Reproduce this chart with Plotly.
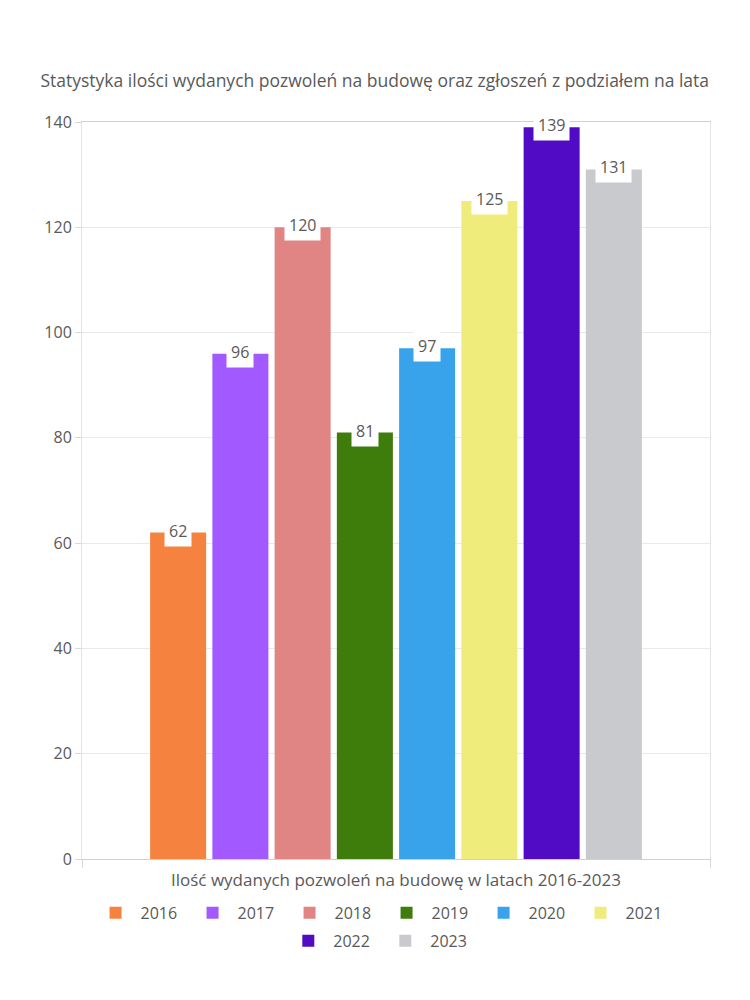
import plotly.graph_objects as go

years = ["2016", "2017", "2018", "2019", "2020", "2021", "2022", "2023"]
values = [62, 96, 120, 81, 97, 125, 139, 131]
colors = ["#F5833F", "#A259FF", "#E18484", "#3E7C0C", "#38A2EA", "#F0EC7C", "#520BC4", "#C9CACE"]
category = ["Ilość wydanych pozwoleń na budowę w latach 2016-2023"]
title_text = "Statystyka ilości wydanych pozwoleń na budowę oraz zgłoszeń z podziałem na lata"
y_ticks = [0, 20, 40, 60, 80, 100, 120, 140]

FONT = "Open Sans"
GREY = "#595959"
BARGAP = 0.207

fig = go.Figure()
n = len(years)
for i, (yr, v, c) in enumerate(zip(years, values, colors)):
    fig.add_trace(go.Bar(
        x=category, y=[v], name=yr,
        marker=dict(color=c, line=dict(width=0)),
        legend="legend" if i < 6 else "legend2",
        hoverinfo="name+y",
    ))

# data labels in white boxes at the top of each bar
slot = (1 - BARGAP) / n
for i, v in enumerate(values):
    fig.add_annotation(
        x=(i - (n - 1) / 2) * slot, y=v, xref="x", yref="y",
        text=str(v), showarrow=False,
        font=dict(family=FONT, size=16, color=GREY),
        bgcolor="white", borderpad=4, yanchor="middle", yshift=2,
    )

legend_common = dict(orientation="h", xanchor="center", yanchor="middle",
                     font=dict(family=FONT, size=16, color=GREY),
                     entrywidth=42, itemwidth=40, traceorder="normal",
                     bgcolor="rgba(0,0,0,0)")

fig.update_layout(
    width=750, height=1000,
    margin=dict(l=74, r=48, t=114, b=149),
    paper_bgcolor="white", plot_bgcolor="white",
    barmode="group", bargap=BARGAP, bargroupgap=0.1,
    font=dict(family=FONT, color=GREY),
    title=dict(text=title_text, x=0.489, xanchor="center", xref="container",
               y=0.927, yref="container", yanchor="middle",
               font=dict(family=FONT, size=17.5, color=GREY)),
    showlegend=True,
    legend=dict(x=0.477, y=-0.073, **legend_common),
    legend2=dict(x=0.475, y=-0.111, **legend_common),
)
fig.update_xaxes(
    type="category", showticklabels=False, ticks="outside", tickson="boundaries",
    ticklen=8, tickcolor="#d9d9d9",
    showline=True, linecolor="#d0d0d0", mirror=True, showgrid=False,
    title=dict(text=category[0], font=dict(family=FONT, size=17, color=GREY), standoff=15),
)
fig.update_yaxes(
    range=[0, 140], tickvals=y_ticks, ticks="outside", ticklen=6, tickcolor="#d9d9d9",
    showline=True, linecolor="#e3e3e3", mirror=True,
    gridcolor="#e9e9e9", zeroline=False,
    tickfont=dict(family=FONT, size=16, color=GREY),
)

fig.write_html("out.html")
